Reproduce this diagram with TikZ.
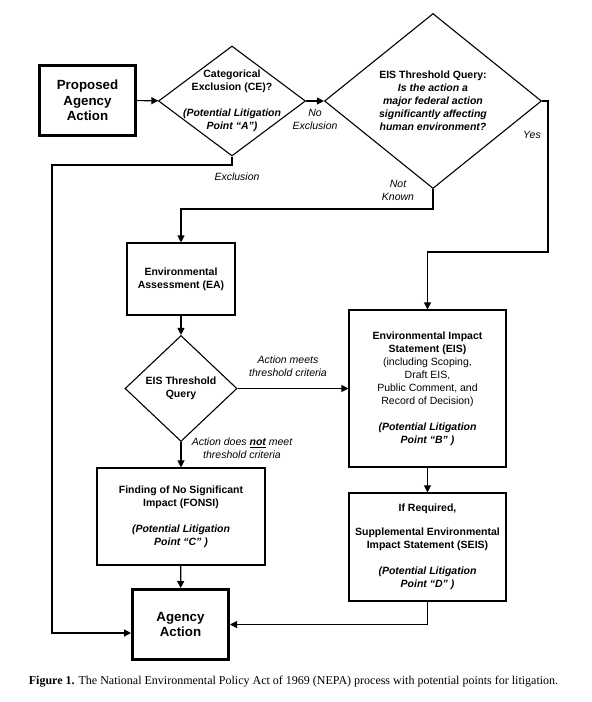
\documentclass[tikz,border=0pt]{standalone}
\usepackage{fontspec}
\setmainfont{Liberation Serif}
\setsansfont{Liberation Sans}
\usetikzlibrary{arrows.meta,positioning,shapes.geometric}
\tikzset{
  box/.style={
    draw=black,fill=white,line width=1.1pt,inner sep=0pt,
    align=center,font=\sffamily\fontsize{10.5}{13}\selectfont
  },
  endbox/.style={
    draw=black,fill=white,line width=3pt,inner sep=0pt,
    minimum width=96pt,minimum height=70pt,
    align=center,font=\sffamily\bfseries\fontsize{13.3}{15.5}\selectfont
  },
  query/.style={diamond,draw=black,fill=white,line width=1.1pt,inner sep=0pt},
  querytext/.style={align=center,inner sep=0pt,font=\sffamily\bfseries\fontsize{10.5}{13}\selectfont},
  branch/.style={align=center,inner sep=0pt,font=\sffamily\itshape\fontsize{10.5}{13}\selectfont},
  arrow/.style={-{Triangle[length=7pt,width=7pt]},draw=black,line width=1.1pt}
}

\begin{document}
\begin{tikzpicture}[x=1pt,y=-1pt]
\useasboundingbox (0,0) rectangle (592,702);
\node[endbox] (proposed) at (87.5,100.5) {Proposed\\Agency\\Action};
\node[query,minimum width=147pt,minimum height=110pt] (ce) at (232,101) {};
\node[querytext] (cetext) at (ce) {Categorical\\Exclusion (CE)?\\[13pt]\textit{(Potential Litigation}\\\textit{Point “A”)}};
\node[query,minimum width=217pt,minimum height=175pt] (eisq) at (433,101) {};
\node[querytext] (eisqtext) at (eisq) {EIS Threshold Query:\\\textit{Is the action a}\\\textit{major federal action}\\\textit{significantly affecting}\\\textit{human environment?}};
\node[box,minimum width=108pt,minimum height=72pt] (ea) at (181,279) {\textbf{Environmental}\\\textbf{Assessment (EA)}};
\node[query,minimum width=112pt,minimum height=106pt] (thq) at (181,388.5) {};
\node[querytext] (thqtext) at (thq) {EIS Threshold\\Query};
\node[box,minimum width=157pt,minimum height=157pt] (eis) at (427.5,388.5) {\textbf{Environmental Impact}\\\textbf{Statement (EIS)}\\(including Scoping,\\Draft EIS,\\Public Comment, and\\Record of Decision)\\[13pt]\textbf{\textit{(Potential Litigation}}\\\textbf{\textit{Point “B” )}}};
\node[box,minimum width=168pt,minimum height=97pt] (fonsi) at (181,516.5) {\textbf{Finding of No Significant}\\\textbf{Impact (FONSI)}\\[13pt]\textbf{\textit{(Potential Litigation}}\\\textbf{\textit{Point “C” )}}};
\node[box,minimum width=157pt,minimum height=108pt] (seis) at (427.5,547) {\textbf{If Required,}\\[11pt]\textbf{Supplemental Environmental}\\\textbf{Impact Statement (SEIS)}\\[13pt]\textbf{\textit{(Potential Litigation}}\\\textbf{\textit{Point “D” )}}};
\node[endbox] (agency) at (180.5,624.5) {Agency\\Action};
\coordinate (excl) at (52,165);
\coordinate (notknown) at (181,209);
\coordinate (yes) at (548,252);
\draw[arrow] (proposed) -- (ce);
\draw[arrow] (ce) -- (eisq);
\draw[arrow] (ce.south) |- (excl) |- ([yshift=-8.5pt]agency.west);
\draw[arrow] (eisq.south) |- (notknown) -- (ea.north);
\draw[arrow] (eisq.east) -| (yes) -| (eis.north);
\draw[arrow] (ea) -- (thq);
\draw[arrow] (thq.east) -- (thq.east -| eis.west);
\draw[arrow] (thq) -- (fonsi);
\draw[arrow] (fonsi) -- (agency);
\draw[arrow] (eis) -- (seis);
\draw[arrow] (seis.south) |- (agency.east);
\node[branch] (noexcl) at (315,119.5) {No\\Exclusion};
\node[branch] (excllabel) at (237,177) {Exclusion};
\node[branch] (yeslabel) at (532,135) {Yes};
\node[branch] (nklabel) at (398,190) {Not\\Known};
\node[branch] (meets) at (288,366) {Action meets\\threshold criteria};
\node[branch] (notmeet) at (242,448) {Action does \underline{\textbf{not}} meet\\threshold criteria};
\node[font=\fontsize{12}{14}\selectfont,inner sep=0pt] (caption) at (293.5,682) {\textbf{Figure 1.} The National Environmental Policy Act of 1969 (NEPA) process with potential points for litigation.};
\end{tikzpicture}
\end{document}
